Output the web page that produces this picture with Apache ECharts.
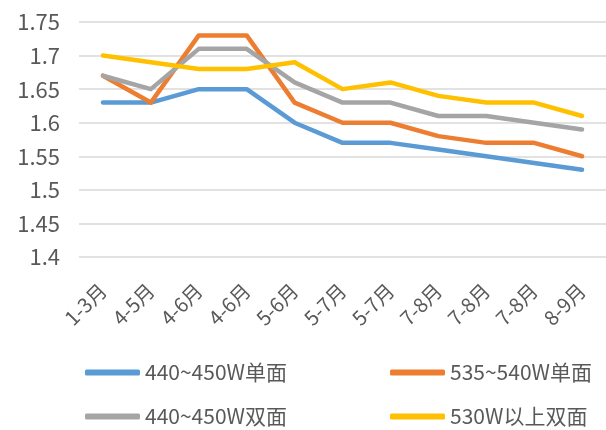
<!DOCTYPE html>
<html>
<head>
<meta charset="utf-8">
<script src="https://cdn.jsdelivr.net/npm/echarts@6/dist/echarts.min.js"></script>
<style>
  html, body { margin: 0; padding: 0; background: #fff; }
  #chart { width: 606px; height: 430px; }
</style>
</head>
<body>
<div id="chart"></div>
<script>
// 月份区间
const months = ['1-3月', '4-5月', '4-6月', '4-6月', '5-6月', '5-7月', '5-7月', '7-8月', '7-8月', '7-8月', '8-9月']

// 各规格组件价格
const mono440 = [1.63, 1.63, 1.65, 1.65, 1.60, 1.57, 1.57, 1.56, 1.55, 1.54, 1.53]
const mono535 = [1.67, 1.63, 1.73, 1.73, 1.63, 1.60, 1.60, 1.58, 1.57, 1.57, 1.55]
const bifi440 = [1.67, 1.65, 1.71, 1.71, 1.66, 1.63, 1.63, 1.61, 1.61, 1.60, 1.59]
const bifi530 = [1.70, 1.69, 1.68, 1.68, 1.69, 1.65, 1.66, 1.64, 1.63, 1.63, 1.61]

const names = ['440~450W单面', '535~540W单面', '440~450W双面', '530W以上双面']
const colors = ['#5B9BD5', '#ED7D31', '#A5A5A5', '#FFC000']

const font = '"Noto Sans CJK SC", "Noto Sans", sans-serif'
const textColor = '#595959'

let chart = echarts.init(document.getElementById('chart'))

function makeSeries (name, data, color) {
  return {
    name: name,
    type: 'line',
    data: data,
    symbol: 'none',
    color: color,
    lineStyle: { width: 4.5, color: color, cap: 'round', join: 'round' }
  }
}

// 图例 2x2 排列，每项单独放一个 legend
function makeLegend (name, left, top) {
  return {
    left: left,
    top: top,
    data: [name],
    icon: 'roundRect',
    itemWidth: 55,
    itemHeight: 6,
    selectedMode: false,
    padding: 0,
    textStyle: { fontFamily: font, fontSize: 21, color: textColor }
  }
}

chart.setOption({
  animation: false,
  grid: { left: 79, right: -7, top: 22, bottom: 173 },
  legend: [
    makeLegend(names[0], 85, 362),
    makeLegend(names[1], 390, 362),
    makeLegend(names[2], 85, 406),
    makeLegend(names[3], 390, 406)
  ],
  xAxis: {
    type: 'category',
    data: months,
    boundaryGap: true,
    axisLine: { show: false },
    axisTick: { show: false },
    axisLabel: {
      interval: 0,
      rotate: 45,
      margin: 30,
      fontFamily: font,
      fontSize: 20,
      color: textColor
    }
  },
  yAxis: {
    type: 'value',
    min: 1.4,
    max: 1.75,
    interval: 0.05,
    axisLine: { show: false },
    axisTick: { show: false },
    axisLabel: {
      margin: 19,
      fontFamily: font,
      fontSize: 22,
      color: textColor
    },
    splitLine: { lineStyle: { color: '#D9D9D9', width: 1.5 } }
  },
  series: [
    makeSeries(names[0], mono440, colors[0]),
    makeSeries(names[1], mono535, colors[1]),
    makeSeries(names[2], bifi440, colors[2]),
    makeSeries(names[3], bifi530, colors[3])
  ]
})
</script>
</body>
</html>
